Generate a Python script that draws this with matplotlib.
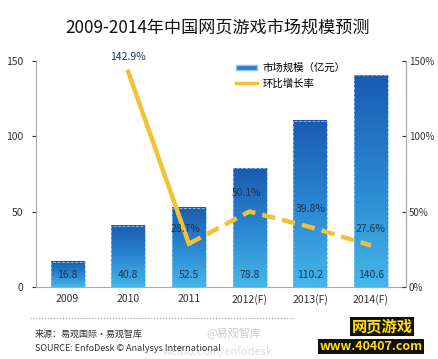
import matplotlib.pyplot as plt
import numpy as np
from matplotlib.colors import LinearSegmentedColormap
from matplotlib.lines import Line2D
from matplotlib.patches import Patch

plt.rcParams['font.family'] = ['Noto Sans CJK SC', 'DejaVu Sans']

years = ['2009', '2010', '2011', '2012(F)', '2013(F)', '2014(F)']
market = [16.8, 40.8, 52.5, 78.8, 110.2, 140.6]
growth_years = [1, 2, 3, 4, 5]
growth = [142.9, 28.7, 50.1, 39.8, 27.6]

title = '2009-2014年中国网页游戏市场规模预测'
legend_bar = '市场规模（亿元）'
legend_line = '环比增长率'

fig = plt.figure(figsize=(4.39, 3.59), dpi=100)
ax = fig.add_axes([0.082, 0.2006, 0.843, 0.6294])

grad = LinearSegmentedColormap.from_list('g', ['#45b6ea', '#2a86d0', '#1a5cb2'])
x = np.arange(len(years))
w = 0.56
for xi, v in zip(x, market):
    img = np.linspace(0, 1, 100).reshape(-1, 1)
    ax.imshow(img, cmap=grad, origin='lower', aspect='auto',
              extent=[xi - w / 2, xi + w / 2, 0, v], zorder=2)
    ax.bar(xi, v, w, facecolor='none', edgecolor='#8cc8ee', linestyle='--',
           linewidth=0.6, zorder=3)
    ax.text(xi, 8, f'{v:g}', ha='center', va='center', fontsize=7.5,
            color='#1d3550', zorder=6)

ax.set_xlim(-0.52, 5.58)
ax.set_ylim(0, 150)
ax.set_yticks([0, 50, 100, 150])
ax.set_xticks(x)
ax.set_xticklabels(years)
ax.tick_params(axis='x', length=0, labelsize=7.5, pad=5, colors='#333333')
ax.tick_params(axis='y', length=3, labelsize=7.5, colors='#333333',
               direction='out', pad=6)
ax.spines['top'].set_visible(False)
for s in ['left', 'right', 'bottom']:
    ax.spines[s].set_color('#aaaaaa')
    ax.spines[s].set_linewidth(0.8)

ax2 = ax.twinx()
ax2.set_ylim(0, 150)
ax2.set_yticks([0, 50, 100, 150])
ax2.set_yticklabels(['0%', '50%', '100%', '150%'])
ax2.tick_params(axis='y', length=3, labelsize=7, colors='#333333',
                direction='in', pad=2)
ax2.spines['top'].set_visible(False)
ax2.spines['right'].set_color('#aaaaaa')
ax2.spines['left'].set_visible(False)
ax2.spines['bottom'].set_visible(False)

yellow = '#f2c232'
ax2.plot(growth_years[:2], growth[:2], color=yellow, lw=3.2, zorder=4,
         solid_joinstyle='miter')
ax2.plot(growth_years[1:], growth[1:], color=yellow, lw=3.2, ls=(0, (3, 1.6)),
         zorder=4)
offsets = [(0, 10), (-0.05, 10), (-0.05, 12), (0, 12), (0, 11)]
for gx, gv, (dx, dy) in zip(growth_years, growth, offsets):
    ax2.text(gx + dx, gv + dy, f'{gv}%', ha='center', va='center', fontsize=7.5,
             color='#1d3550', zorder=6, clip_on=False)

handles = [Patch(facecolor='#2a7cc8', edgecolor='#8cc8ee'),
           Line2D([0], [0], color=yellow, lw=2.5)]
ax2.legend(handles, [legend_bar, legend_line], loc='upper left',
           bbox_to_anchor=(0.53, 1.01), frameon=False, fontsize=7.5,
           handlelength=2.0, handleheight=0.4, labelspacing=0.5,
           borderaxespad=0, handletextpad=0.5)

fig.text(0.495, 0.92, title, ha='center', va='center', fontsize=12.3,
         color='#111111')

fig.add_artist(Line2D([0.068, 0.672], [0.114, 0.114], color='#999999', lw=0.8,
                      ls=':'))
fig.text(0.08, 0.07, '来源：易观国际·易观智库', fontsize=6.5, color='#333333',
         va='center')
fig.text(0.08, 0.03, 'SOURCE: EnfoDesk © Analysys International', fontsize=6.5,
         color='#333333', va='center')
fig.text(0.47, 0.07, '@易观智库', fontsize=8, color='#cccccc', va='center')
fig.text(0.37, 0.02, 'weibo.com/enfodesk', fontsize=8, color='#dddddd',
         va='center', zorder=0)
fig.text(0.87, 0.09, '网页游戏', fontsize=11, color='#ffe000', va='center',
         ha='center', weight='bold',
         bbox=dict(facecolor='#111111', edgecolor='none', pad=1))
fig.text(0.845, 0.035, 'www.40407.com', fontsize=9, color='#ffe000',
         va='center', ha='center', weight='bold',
         bbox=dict(facecolor='#111111', edgecolor='none', pad=1))

fig.savefig('out.png', dpi=100)
